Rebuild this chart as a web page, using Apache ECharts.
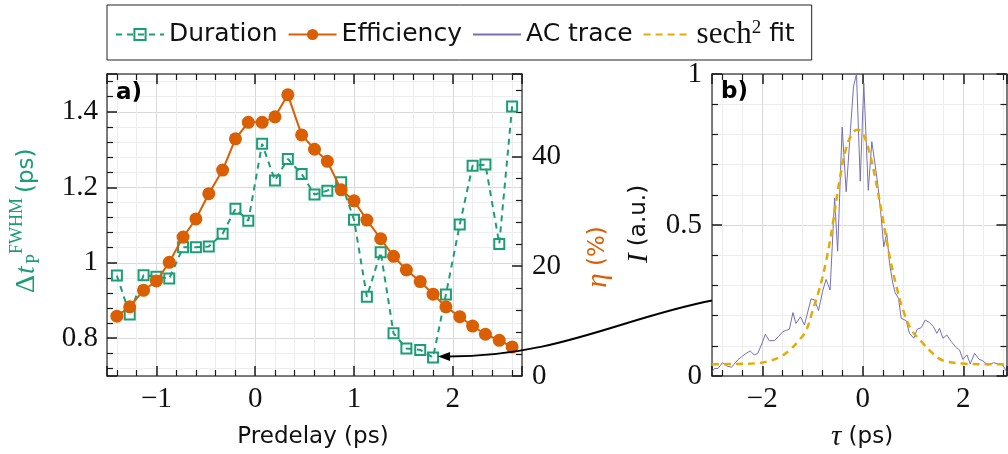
<!DOCTYPE html>
<html>
<head>
<meta charset="utf-8">
<script src="https://cdn.jsdelivr.net/npm/echarts@6/dist/echarts.min.js"></script>
<style>
html,body{margin:0;padding:0;background:#fff;}
#c{width:1008px;height:454px;}
</style>
</head>
<body>
<div id="c"></div>
<script>
// ---- data ----
const predelay = [-1.40,-1.27,-1.13,-1.00,-0.87,-0.73,-0.60,-0.47,-0.33,-0.20,-0.07,0.07,0.20,0.33,0.47,0.60,0.73,0.87,1.00,1.13,1.27,1.40,1.53,1.67,1.80,1.93,2.07,2.20,2.33,2.47,2.60];
const duration = [0.966,0.863,0.967,0.963,0.958,1.041,1.041,1.043,1.077,1.143,1.111,1.315,1.218,1.275,1.235,1.181,1.191,1.213,1.114,0.910,1.028,0.813,0.773,0.769,0.749,0.916,1.101,1.257,1.260,1.050,1.414];
const efficiency = [10.9,12.6,15.6,17.3,20.7,25.3,28.6,33.2,37.5,43.2,46.2,46.2,47.2,51.2,43.9,41.3,39.1,33.9,31.9,28.4,25.0,21.8,19.3,17.2,14.9,12.6,10.8,9.1,7.6,6.5,5.3];

const tauTrace = [-3.00,-2.95,-2.88,-2.79,-2.70,-2.61,-2.49,-2.41,-2.32,-2.24,-2.16,-2.09,-2.01,-1.94,-1.86,-1.76,-1.68,-1.59,-1.54,-1.46,-1.39,-1.33,-1.24,-1.16,-1.03,-0.96,-0.88,-0.80,-0.73,-0.65,-0.56,-0.50,-0.41,-0.33,-0.185,-0.125,-0.05,0.02,0.11,0.18,0.233,0.30,0.353,0.418,0.478,0.532,0.598,0.645,0.711,0.765,0.865,0.930,1.016,1.083,1.163,1.243,1.329,1.408,1.474,1.528,1.594,1.673,1.761,1.861,1.926,1.992,2.072,2.139,2.225,2.311,2.390,2.490,2.604,2.709,2.789,2.86];
const acTrace = [0.014,0.025,0.025,0.044,0.033,0.029,0.053,0.064,0.075,0.083,0.070,0.075,0.106,0.138,0.117,0.117,0.130,0.147,0.150,0.155,0.210,0.174,0.196,0.169,0.255,0.252,0.217,0.280,0.320,0.285,0.589,0.413,0.824,0.610,0.958,1.000,0.645,0.970,0.615,0.776,0.715,0.632,0.550,0.428,0.472,0.373,0.307,0.276,0.257,0.191,0.183,0.141,0.125,0.155,0.160,0.185,0.177,0.163,0.141,0.158,0.125,0.136,0.114,0.094,0.086,0.055,0.070,0.040,0.075,0.056,0.050,0.036,0.044,0.039,0.036,0.014];

const tauFit = [-3.0,-2.5,-2.06,-1.86,-1.66,-1.46,-1.26,-1.13,-1.0,-0.86,-0.73,-0.6,-0.46,-0.33,-0.2,-0.1,0,0.133,0.266,0.4,0.53,0.665,0.8,0.96,1.16,1.33,1.5,1.66,2.0,2.4,2.86];
const sechFit = [0.039,0.040,0.043,0.050,0.062,0.085,0.12,0.15,0.215,0.29,0.38,0.50,0.65,0.755,0.805,0.815,0.803,0.74,0.64,0.52,0.40,0.30,0.22,0.155,0.115,0.085,0.06,0.048,0.041,0.039,0.039];

const legendNames = ['Duration','Efficiency','AC trace','sech² fit'];

// ---- style ----
const teal = '#1b9e77', orange = '#d95f02', purple = '#7570b3', yellow = '#e6ab02';
const serif = 'Liberation Serif', sans = 'DejaVu Sans';
const fmt = v => String(+(+v).toFixed(2)).replace('-', '\u2212');

function axis(o) {
  const base = {
    type: 'value',
    axisLine: {show: true, onZero: false, lineStyle: {color: '#555', width: 1.5}},
    axisTick: {show: true, inside: true, length: 10, lineStyle: {color: '#1a1a1a', width: 1.5}},
    minorTick: {show: true, splitNumber: 5, length: 6, lineStyle: {color: '#1a1a1a', width: 1.2}},
    axisLabel: {show: true, fontFamily: serif, fontSize: 29, color: '#111', margin: 9, formatter: fmt},
    splitLine: {show: false},
    minorSplitLine: {show: false}
  };
  for (const k in o) {
    if (o[k] && typeof o[k] === 'object' && !Array.isArray(o[k]) && base[k]) base[k] = Object.assign({}, base[k], o[k]);
    else base[k] = o[k];
  }
  return base;
}
const grid1 = {lineStyle: {color: '#d9d9d9', width: 1}};
const grid2 = {show: true, lineStyle: {color: '#ededed', width: 1}};

const option = {
  animation: false,
  backgroundColor: '#fff',
  grid: [
    {left: 107, top: 74, right: 486, bottom: 78, containLabel: false, outerBoundsMode: 'none'},
    {left: 712, top: 74, right: 1.5, bottom: 78, containLabel: false, outerBoundsMode: 'none'}
  ],
  legend: {
    data: legendNames.map(n => (n === 'AC trace' || n === 'sech² fit') ? {name: n, itemStyle: {opacity: 0}} : {name: n}),
    left: 107, top: 5,
    itemWidth: 48, itemHeight: 14, itemGap: 10,
    padding: [14, 17, 10, 8],
    borderColor: '#222', borderWidth: 1, borderRadius: 0,
    backgroundColor: '#fff',
    textStyle: {fontFamily: sans, fontSize: 25, color: '#111',
      rich: {s: {fontFamily: serif, fontSize: 31, color: '#111'}, p: {fontFamily: serif, fontSize: 19, color: '#111', verticalAlign: 'top'}}},
    formatter: n => n === 'sech² fit' ? '{s|sech}{p|2} fit' : n
  },
  xAxis: [
    axis({gridIndex: 0, position: 'bottom', min: -1.5, max: 2.7, splitNumber: 4,
      axisLabel: {showMinLabel: false, showMaxLabel: false},
      splitLine: Object.assign({show: true}, grid1), minorSplitLine: grid2}),
    axis({gridIndex: 0, position: 'top', min: -1.5, max: 2.7, splitNumber: 4, axisLabel: {show: false}}),
    axis({gridIndex: 1, position: 'bottom', min: -3, max: 2.86, splitNumber: 3,
      axisLabel: {showMinLabel: false, showMaxLabel: false},
      splitLine: Object.assign({show: true}, grid1), minorSplitLine: grid2}),
    axis({gridIndex: 1, position: 'top', min: -3, max: 2.86, splitNumber: 3, axisLabel: {show: false}})
  ],
  yAxis: [
    axis({gridIndex: 0, position: 'left', min: 0.7, max: 1.5, splitNumber: 4,
      axisLabel: {showMinLabel: false, showMaxLabel: false},
      splitLine: Object.assign({show: true}, grid1), minorSplitLine: grid2}),
    axis({gridIndex: 0, position: 'right', min: 0, max: 55, interval: 20,
      axisLabel: {showMaxLabel: false, margin: 10}}),
    axis({gridIndex: 1, position: 'left', min: 0, max: 1, interval: 0.5,
      axisLabel: {margin: 10},
      splitLine: Object.assign({show: true}, grid1), minorSplitLine: grid2}),
    axis({gridIndex: 1, position: 'right', min: 0, max: 1, interval: 0.5, axisLabel: {show: false}})
  ],
  series: [
    {
      name: 'Duration', type: 'line', xAxisIndex: 0, yAxisIndex: 0,
      data: predelay.map((x, i) => [x, duration[i]]),
      symbol: 'rect', symbolSize: 10,
      itemStyle: {color: 'rgba(255,255,255,0)', borderColor: teal, borderWidth: 2},
      lineStyle: {color: teal, width: 2, type: [6, 5]},
      z: 3
    },
    {
      name: 'Efficiency', type: 'line', xAxisIndex: 0, yAxisIndex: 1,
      data: predelay.map((x, i) => [x, efficiency[i]]),
      symbol: 'circle', symbolSize: 13,
      itemStyle: {color: orange},
      lineStyle: {color: orange, width: 2},
      z: 4
    },
    {
      name: 'AC trace', type: 'line', xAxisIndex: 2, yAxisIndex: 2,
      data: tauTrace.map((x, i) => [x, acTrace[i]]),
      symbol: 'none', itemStyle: {color: purple},
      lineStyle: {color: purple, width: 1},
      z: 3
    },
    {
      name: 'sech² fit', type: 'line', xAxisIndex: 2, yAxisIndex: 2,
      data: tauFit.map((x, i) => [x, sechFit[i]]),
      symbol: 'none', smooth: 0.4, itemStyle: {color: yellow},
      lineStyle: {color: yellow, width: 2.5, type: [7, 5]},
      z: 4
    }
  ]
};

const chart = echarts.init(document.getElementById('c'), null, {renderer: 'canvas', width: 1008, height: 454});
chart.setOption(option);

// ---- annotations (text and arrow) ----
const tip = chart.convertToPixel({xAxisIndex: 0, yAxisIndex: 0}, [predelay[24], duration[24]]);
const st = chart.convertToPixel({xAxisIndex: 2, yAxisIndex: 2}, [-3, 0.25]);
const tx = tip[0] + 5, ty = tip[1] - 1;

chart.setOption({
  graphic: [
    {type: 'bezierCurve', z: 50, silent: true,
      shape: {x1: st[0], y1: st[1], cpx1: st[0] - 92, cpy1: st[1] + 18, cpx2: tx + 120, cpy2: ty, x2: tx + 10, y2: ty},
      style: {stroke: '#000', lineWidth: 2, fill: null}},
    {type: 'polygon', z: 51, silent: true,
      shape: {points: [[tx, ty], [tx + 12, ty - 4.5], [tx + 12, ty + 4.5]]},
      style: {fill: '#000'}},
    {type: 'text', left: 116, top: 82, z: 60,
      style: {text: 'a)', font: 'bold 23px "DejaVu Sans"', fill: '#000'}},
    {type: 'text', left: 721, top: 81, z: 60,
      style: {text: 'b)', font: 'bold 23px "DejaVu Sans"', fill: '#000'}},
    // left axis name of panel a
    {type: 'group', x: 37, y: 293, rotation: Math.PI / 2, silent: true, children: [
      {type: 'text', x: 0, y: -10, style: {text: 'Δ', font: '28px "Liberation Serif"', fill: teal, verticalAlign: 'middle'}},
      {type: 'text', x: 19, y: -10, style: {text: 't', font: 'italic 28px "Liberation Serif"', fill: teal, verticalAlign: 'middle'}},
      {type: 'text', x: 29, y: -3, style: {text: 'P', font: '18px "Liberation Serif"', fill: teal, verticalAlign: 'middle'}},
      {type: 'text', x: 39, y: -20, style: {text: 'FWHM', font: '18px "Liberation Serif"', fill: teal, verticalAlign: 'middle'}},
      {type: 'text', x: 100, y: -10, style: {text: '(ps)', font: '23px "DejaVu Sans"', fill: teal, verticalAlign: 'middle'}}
    ]},
    // right axis name of panel a
    {type: 'text', x: 598, y: 257, rotation: Math.PI / 2, silent: true,
      style: {text: '{e|η} (%)', font: '23px "DejaVu Sans"', fill: orange, align: 'center', verticalAlign: 'middle',
        rich: {e: {fontFamily: serif, fontStyle: 'italic', fontSize: 29, fill: orange}}}},
    // left axis name of panel b
    {type: 'text', x: 639, y: 224, rotation: Math.PI / 2, silent: true,
      style: {text: '{e|I} (a.u.)', font: '23px "DejaVu Sans"', fill: '#111', align: 'center', verticalAlign: 'middle',
        rich: {e: {fontFamily: serif, fontStyle: 'italic', fontSize: 29, fill: '#111'}}}},
    // x axis names
    {type: 'text', x: 313, y: 437, silent: true,
      style: {text: 'Predelay (ps)', font: '23px "DejaVu Sans"', fill: '#111', align: 'center', verticalAlign: 'middle'}},
    {type: 'text', x: 862, y: 437, silent: true,
      style: {text: '{e|τ} (ps)', font: '23px "DejaVu Sans"', fill: '#111', align: 'center', verticalAlign: 'middle',
        rich: {e: {fontFamily: serif, fontStyle: 'italic', fontSize: 29, fill: '#111'}}}}
  ]
});
</script>
</body>
</html>
